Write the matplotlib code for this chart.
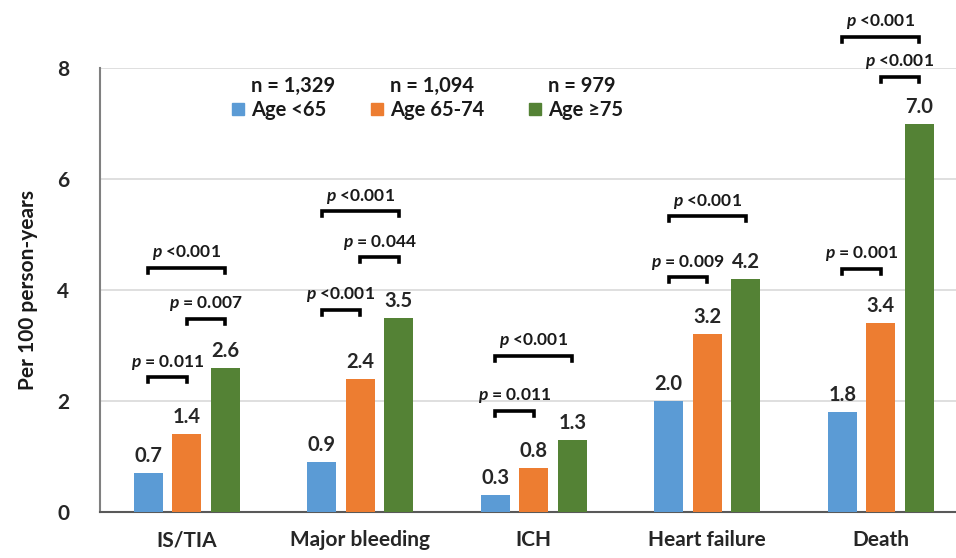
import numpy as np
import matplotlib
matplotlib.use("Agg")
import matplotlib.pyplot as plt
from matplotlib.patches import Patch

plt.rcParams['font.family'] = ['Lato', 'DejaVu Sans']
plt.rcParams['font.weight'] = 'bold'
plt.rcParams['axes.labelweight'] = 'bold'
plt.rcParams['mathtext.fontset'] = 'custom'
plt.rcParams['mathtext.it'] = 'Lato:italic:bold'
plt.rcParams['mathtext.rm'] = 'Lato:bold'

# outcome rates per 100 person-years by age group
categories = ["IS/TIA", "Major bleeding", "ICH", "Heart failure", "Death"]
age_lt65 = [0.7, 0.9, 0.3, 2.0, 1.8]
age_65_74 = [1.4, 2.4, 0.8, 3.2, 3.4]
age_ge75 = [2.6, 3.5, 1.3, 4.2, 7.0]
group_labels = ["Age <65", "Age 65-74", "Age \u226575"]
group_n = ["n = 1,329", "n = 1,094", "n = 979"]
colors = ["#5B9BD5", "#ED7D31", "#548235"]

# significance brackets: (category, bar a, bar b, bracket height, label)
brackets = [
    (0, 0, 1, 2.43, r"$p$ = 0.011"),
    (0, 1, 2, 3.48, r"$p$ = 0.007"),
    (0, 0, 2, 4.40, r"$p$ <0.001"),
    (1, 0, 1, 3.64, r"$p$ <0.001"),
    (1, 1, 2, 4.59, r"$p$ = 0.044"),
    (1, 0, 2, 5.42, r"$p$ <0.001"),
    (2, 0, 1, 1.82, r"$p$ = 0.011"),
    (2, 0, 2, 2.81, r"$p$ <0.001"),
    (3, 0, 1, 4.23, r"$p$ = 0.009"),
    (3, 0, 2, 5.33, r"$p$ <0.001"),
    (4, 0, 1, 4.38, r"$p$ = 0.001"),
    (4, 1, 2, 7.84, r"$p$ <0.001"),
    (4, 0, 2, 8.56, r"$p$ <0.001"),
]

fig = plt.figure(figsize=(9.56, 5.58), dpi=100)
ax = fig.add_axes([100 / 956, 1 - 512 / 558, 856 / 956, 444 / 558])

x = np.arange(len(categories))
width = 0.167
step = 0.222
series = [age_lt65, age_65_74, age_ge75]
for k, vals in enumerate(series):
    xs = x + (k - 1) * step
    ax.bar(xs, vals, width, color=colors[k], zorder=3)
    for xi, v in zip(xs, vals):
        ax.annotate(f"{v:.1f}", (xi, v), xytext=(0, 5), textcoords="offset points",
                    ha="center", va="bottom", fontsize=14.5, color="#262626")

for cat, a, b, yb, label in brackets:
    xa = cat + (a - 1) * step
    xb = cat + (b - 1) * step
    drop = 0.09
    ax.plot([xa, xa, xb, xb], [yb - drop, yb, yb, yb - drop], color="black",
            lw=2.6, solid_joinstyle="miter", clip_on=False, zorder=4)
    ax.annotate(label, ((xa + xb) / 2, yb), xytext=(0, 4), textcoords="offset points",
                ha="center", va="bottom", fontsize=12.5, color="#1a1a1a",
                annotation_clip=False)

ax.set_xlim(-0.5, 4.434)
ax.set_ylim(0, 8)
ax.set_yticks([0, 2, 4, 6, 8])
ax.yaxis.grid(True, color="#d9d9d9", lw=1.2, zorder=0)
ax.set_axisbelow(True)
ax.tick_params(axis="y", length=0, pad=22, labelsize=15, labelcolor="#262626")
ax.tick_params(axis="x", length=0, pad=13, labelsize=15, labelcolor="#262626")
ax.set_xticks(x)
ax.set_xticklabels(categories)
for lbl in ax.get_xticklabels() + ax.get_yticklabels():
    lbl.set_fontweight("bold")
for side in ["top", "right"]:
    ax.spines[side].set_visible(False)
ax.spines["left"].set_color("#808080")
ax.spines["left"].set_linewidth(1.5)
ax.spines["bottom"].set_color("#595959")
ax.spines["bottom"].set_linewidth(1.5)
ax.set_ylabel("Per 100 person-years", fontsize=15, labelpad=14, color="#1a1a1a")

handles = [Patch(color=c) for c in colors]
leg = ax.legend(handles, group_labels, ncol=3, frameon=False, fontsize=14.5,
                loc="center left", bbox_to_anchor=(0.145, 0.905),
                handlelength=0.6, handleheight=0.6, handletextpad=0.35,
                columnspacing=2.2, borderaxespad=0)
for t in leg.get_texts():
    t.set_color("#1a1a1a")

# sample sizes sit above each legend label
fig.canvas.draw()
inv = ax.transAxes.inverted()
for t, n in zip(leg.get_texts(), group_n):
    bb = t.get_window_extent()
    x0, y1 = inv.transform((bb.x0, bb.y1))
    ax.text(x0, y1 + 0.01, n, transform=ax.transAxes, ha="left", va="bottom",
            fontsize=14.5, color="#1a1a1a")

fig.savefig("out.png", dpi=100)
